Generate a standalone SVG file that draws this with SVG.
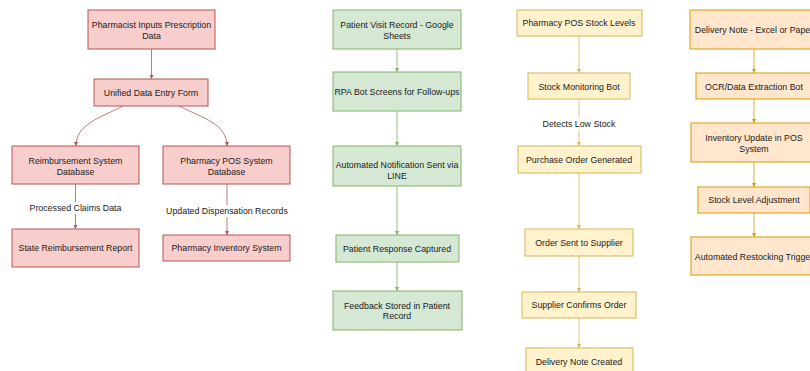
<svg xmlns="http://www.w3.org/2000/svg" width="810" height="371" viewBox="0 0 810 371">
<style>
text{font-family:"Liberation Sans",Arial,sans-serif;font-size:8.8px;fill:#1a1a1a;text-anchor:middle}
.r rect{fill:#f8cecc;stroke:#b85450;stroke-width:1}
.g rect{fill:#d5e8d4;stroke:#82b366;stroke-width:1}
.y rect{fill:#fff2cc;stroke:#d6b656;stroke-width:1}
.o rect{fill:#ffe6cc;stroke:#d79b00;stroke-width:1}
.er{fill:none;stroke:#b85450;stroke-width:0.8}
.eg{fill:none;stroke:#82b366;stroke-width:0.8}
.ey{fill:none;stroke:#d6b656;stroke-width:0.8}
.eo{fill:none;stroke:#d79b00;stroke-width:0.8}
.lbg{fill:#ffffff;stroke:none}
</style>
<defs>
<marker id="ar" viewBox="0 0 8 8" refX="8" refY="4" markerWidth="4.5" markerHeight="4.5" markerUnits="userSpaceOnUse" orient="auto"><path d="M0,0 L8,4 L0,8 z" fill="#b85450"/></marker>
<marker id="ag" viewBox="0 0 8 8" refX="8" refY="4" markerWidth="4.5" markerHeight="4.5" markerUnits="userSpaceOnUse" orient="auto"><path d="M0,0 L8,4 L0,8 z" fill="#82b366"/></marker>
<marker id="ay" viewBox="0 0 8 8" refX="8" refY="4" markerWidth="4.5" markerHeight="4.5" markerUnits="userSpaceOnUse" orient="auto"><path d="M0,0 L8,4 L0,8 z" fill="#d6b656"/></marker>
<marker id="ao" viewBox="0 0 8 8" refX="8" refY="4" markerWidth="4.5" markerHeight="4.5" markerUnits="userSpaceOnUse" orient="auto"><path d="M0,0 L8,4 L0,8 z" fill="#d79b00"/></marker>
</defs>
<rect width="810" height="371" fill="#ffffff"/>

<g id="connectors">
  <path class="er" d="M151.5,49 L151.5,79" marker-end="url(#ar)"/>
  <path class="er" d="M123,106 C100,118 76,124 76,146" marker-end="url(#ar)"/>
  <path class="er" d="M179,106 C203,118 227,124 227,146" marker-end="url(#ar)"/>
  <path class="er" d="M75.5,184 L75.5,229" marker-end="url(#ar)"/>
  <path class="er" d="M227,184 L227,235" marker-end="url(#ar)"/>
  <rect class="lbg" x="31" y="202" width="89" height="12"/>
  <text x="75.5" y="211">Processed Claims Data</text>
  <rect class="lbg" x="166" y="205" width="122" height="12"/>
  <text x="227" y="214">Updated Dispensation Records</text>

  <path class="eg" d="M397,49 L397,72" marker-end="url(#ag)"/>
  <path class="eg" d="M397,111 L397,146" marker-end="url(#ag)"/>
  <path class="eg" d="M397,186 L397,235" marker-end="url(#ag)"/>
  <path class="eg" d="M397,262 L397,291" marker-end="url(#ag)"/>

  <path class="ey" d="M579,36 L579,73" marker-end="url(#ay)"/>
  <path class="ey" d="M579,99 L579,146" marker-end="url(#ay)"/>
  <rect class="lbg" x="542" y="118" width="74" height="12"/>
  <text x="579" y="127">Detects Low Stock</text>
  <path class="ey" d="M579,173 L579,229" marker-end="url(#ay)"/>
  <path class="ey" d="M579,256 L579,292" marker-end="url(#ay)"/>
  <path class="ey" d="M579,318 L579,348" marker-end="url(#ay)"/>

  <path class="eo" d="M754,49 L754,73" marker-end="url(#ao)"/>
  <path class="eo" d="M754,99 L754,123" marker-end="url(#ao)"/>
  <path class="eo" d="M754,162 L754,187" marker-end="url(#ao)"/>
  <path class="eo" d="M754,213 L754,237" marker-end="url(#ao)"/>
</g>

<g id="pharmacist-input" class="r"><rect x="88" y="10" width="127" height="39"/><text x="151.5" y="28">Pharmacist Inputs Prescription</text><text x="151.5" y="38.5">Data</text></g>
<g id="unified-form" class="r"><rect x="94" y="79" width="114" height="27"/><text x="151" y="95.5">Unified Data Entry Form</text></g>
<g id="reimbursement-db" class="r"><rect x="12" y="146" width="127" height="38"/><text x="75.5" y="164">Reimbursement System</text><text x="75.5" y="175">Database</text></g>
<g id="pos-db" class="r"><rect x="163" y="146" width="127" height="38"/><text x="226.5" y="164">Pharmacy POS System</text><text x="226.5" y="175">Database</text></g>
<g id="state-report" class="r"><rect x="12" y="229" width="127" height="38"/><text x="75.5" y="251">State Reimbursement Report</text></g>
<g id="inventory-system" class="r"><rect x="163" y="235" width="127" height="26"/><text x="226.5" y="251">Pharmacy Inventory System</text></g>

<g id="patient-visit" class="g"><rect x="333" y="10" width="128" height="39"/><text x="397" y="28">Patient Visit Record - Google</text><text x="397" y="38.5">Sheets</text></g>
<g id="rpa-bot" class="g"><rect x="333" y="72" width="128" height="39"/><text x="397" y="94.5">RPA Bot Screens for Follow-ups</text></g>
<g id="notification" class="g"><rect x="333" y="146" width="128" height="40"/><text x="397" y="168">Automated Notification Sent via</text><text x="397" y="178.5">LINE</text></g>
<g id="patient-response" class="g"><rect x="336" y="235" width="123" height="27"/><text x="397" y="251.5">Patient Response Captured</text></g>
<g id="feedback-stored" class="g"><rect x="333" y="291" width="129" height="39"/><text x="397" y="308.5">Feedback Stored in Patient</text><text x="397" y="319">Record</text></g>

<g id="pos-stock" class="y"><rect x="517" y="10" width="125" height="26"/><text x="579" y="26">Pharmacy POS Stock Levels</text></g>
<g id="stock-bot" class="y"><rect x="528" y="73" width="102" height="26"/><text x="579" y="89.5">Stock Monitoring Bot</text></g>
<g id="purchase-order" class="y"><rect x="518" y="146" width="123" height="27"/><text x="579" y="163">Purchase Order Generated</text></g>
<g id="order-sent" class="y"><rect x="525" y="229" width="108" height="27"/><text x="579" y="245.5">Order Sent to Supplier</text></g>
<g id="supplier-confirms" class="y"><rect x="522" y="292" width="114" height="26"/><text x="579" y="308">Supplier Confirms Order</text></g>
<g id="delivery-note-created" class="y"><rect x="526" y="348" width="107" height="26"/><text x="579" y="364.5">Delivery Note Created</text></g>

<g id="delivery-note" class="o"><rect x="690" y="10" width="128" height="39"/><text x="754" y="32.5">Delivery Note - Excel or Paper</text></g>
<g id="ocr-bot" class="o"><rect x="696" y="73" width="116" height="26"/><text x="754" y="89.5">OCR/Data Extraction Bot</text></g>
<g id="inventory-update" class="o"><rect x="691" y="123" width="126" height="39"/><text x="754" y="141">Inventory Update in POS</text><text x="754" y="151.5">System</text></g>
<g id="stock-adjust" class="o"><rect x="698" y="187" width="112" height="26"/><text x="754" y="203">Stock Level Adjustment</text></g>
<g id="restock-trigger" class="o"><rect x="691" y="237" width="126" height="38"/><text x="754" y="259.5">Automated Restocking Trigger</text></g>
</svg>
